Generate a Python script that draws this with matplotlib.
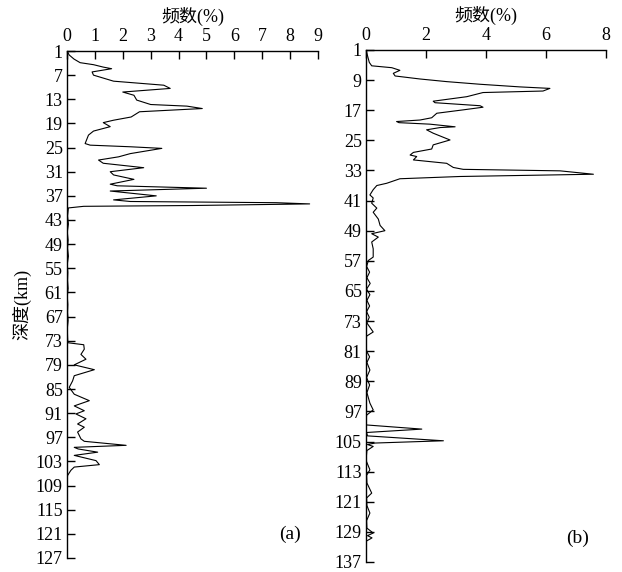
import matplotlib
matplotlib.use("Agg")
import matplotlib.pyplot as plt

plt.rcParams['font.family'] = ['Liberation Serif', 'Noto Sans CJK SC']
plt.rcParams['mathtext.fontset'] = 'stix'

# ---- Panel (a) data: depth (km) vs frequency (%) ----
depth_a = [1, 2, 3, 3.9, 4.4, 5.0, 5.4, 6.2, 7.0, 8.5, 9.5, 10.3, 11.2, 12.0, 13.2,
           14.3, 14.7, 15.3, 16.1, 17.4, 18.2, 18.8, 19.8, 20.9, 21.9, 24.0, 24.4,
           24.8, 25.2, 26.5, 27.3, 28.1, 28.9, 30.0, 31.0, 31.8, 32.9, 34.1, 34.5,
           35.1, 35.8, 37.0, 38.0, 38.4, 38.7, 39.0, 39.4, 39.6, 40.0,
           42, 44, 46, 48, 50, 52, 54, 56, 58, 60, 62, 64, 66, 68, 70, 72, 73.5,
           74.0, 75.1, 76.4, 77.6, 79.0, 80.2, 81.7, 83.0, 84.6, 86.3, 87.9, 89.2,
           90.4, 91.2, 92.4, 93.7, 94.5, 95.7, 97.4, 98.0, 99.0, 99.5, 99.9, 100.7,
           101.5, 102.8, 103.8, 104.4, 105.2, 106.5, 108.1, 127]
freq_a = [0, 0.08, 0.25, 0.47, 0.95, 1.3, 1.6, 0.9, 0.95, 1.67, 3.47, 3.7, 2.0, 2.4, 2.5,
          3.0, 4.3, 4.85, 2.6, 2.3, 1.67, 1.3, 1.55, 0.95, 0.77, 0.65, 0.83,
          2.27, 3.4, 2.27, 1.85, 1.13, 1.3, 2.75, 1.55, 1.67, 2.4, 1.55, 1.8,
          5.0, 1.55, 3.2, 1.67, 2.27, 7.5, 8.7, 4.5, 0.6, 0.05,
          0.02, 0.05, 0.01, 0.04, 0.02, 0.05, 0.01, 0.03, 0.02, 0.04, 0.01, 0.03, 0.02, 0.04, 0.01, 0.02, 0.03,
          0.6, 0.62, 0.5, 0.68, 0.26, 0.98, 0.26, 0.2, 0.08, 0.26, 0.8, 0.26,
          0.62, 0.32, 0.68, 0.38, 0.62, 0.38, 0.5, 0.62, 2.12, 0.26, 0.4, 1.1,
          0.26, 1.04, 1.16, 0.26, 0.14, 0.02, 0.0, 0.0]

# ---- Panel (b) data ----
depth_b = [1, 4.3, 5.2, 5.7, 6.4, 7.2, 7.9, 8.7, 9.4, 10.1, 10.8, 11.2, 11.9, 12.3,
           13.4, 14.6, 15.0, 15.8, 16.2, 16.9, 17.8, 19.0, 19.6, 20.0, 20.3, 20.7,
           21.4, 21.6, 22.2, 23.1, 24.9, 26.2, 27.3, 28.2, 28.9, 29.3, 30.2, 31.1,
           32.2, 32.7, 33.1, 34.0, 34.6, 35.2, 36.4, 37.0, 38.1, 39.5, 40.3, 41.7,
           43.0, 44.1, 45.9, 47.6, 49.0, 49.8, 50.7, 52.0, 53.8, 56.0, 56.9,
           58.5, 60, 61.5, 63, 64.5, 66, 67.5, 69, 70.5, 72, 73.5, 75.9, 77, 78.5,
           81, 82.5, 84, 86, 88, 90, 92, 94.8, 96.6, 98, 99.7, 100.6, 101.7,
           102.6, 103.5, 104.8, 105.4, 105.8, 106.3, 107.4, 110, 112.5, 114,
           116, 118.7, 120, 122, 124, 126, 128, 129.3, 130, 130.6, 131.5, 137]
freq_b = [0, 0.11, 0.19, 0.86, 1.13, 0.91, 0.97, 1.8, 2.69, 3.8, 5.13, 6.13, 5.9, 3.9,
          3.36, 2.24, 2.3, 3.8, 3.9, 3.24, 2.36, 2.19, 1.8, 1.02, 1.1, 2.13,
          2.97, 2.47, 2.02, 2.24, 2.8, 2.24, 2.19, 1.58, 1.47, 1.69, 1.58, 2.69,
          2.91, 3.24, 6.47, 7.58, 3.13, 1.13, 0.69, 0.36, 0.24, 0.13, 0.24, 0.19,
          0.36, 0.24, 0.41, 0.47, 0.63, 0.19, 0.41, 0.19, 0.24, 0.24, 0.08,
          0.02, 0.12, 0.03, 0.14, 0.02, 0.13, 0.03, 0.12, 0.02, 0.11, 0.03, 0.24, 0.02, 0.0,
          0.02, 0.12, 0.03, 0.13, 0.02, 0.12, 0.03, 0.13, 0.24, 0.02, 0.0, 0.02, 1.86,
          0.02, 0.05, 2.58, 0.3, 0.05, 0.24, 0.03, 0.0, 0.13, 0.02,
          0.03, 0.19, 0.02, 0.03, 0.13, 0.02, 0.03, 0.24, 0.05, 0.2, 0.0, 0.0]

ticks_a = list(range(1, 128, 6))
ticks_b = list(range(1, 138, 8))

fig = plt.figure(figsize=(6.22, 5.72), dpi=100)
W, H = 622, 572

def make_ax(l, r, t, b):
    return fig.add_axes([l / W, 1 - b / H, (r - l) / W, (b - t) / H])

ax1 = make_ax(67, 318, 51, 558)
ax2 = make_ax(366, 606, 50, 562)

cjk = ['Liberation Serif', 'Noto Sans CJK SC']

def style(ax, xmax, xticks, ymax, yticks, tag):
    ax.set_xlim(0, xmax)
    ax.set_ylim(ymax, 1)
    ax.xaxis.tick_top()
    ax.xaxis.set_label_position('top')
    ax.set_xticks(xticks)
    ax.set_yticks(yticks)
    for s in ['right', 'bottom']:
        ax.spines[s].set_visible(False)
    for s in ['top', 'left']:
        ax.spines[s].set_linewidth(1.0)
    ax.tick_params(axis='x', direction='in', length=6, width=1.0, pad=4, labelsize=13, top=True, bottom=False)
    ax.tick_params(axis='y', direction='in', length=6, width=1.0, pad=3, labelsize=13)
    ax.set_xlabel('频数(%)', fontsize=13, family=cjk, labelpad=5)
    ax.text(0.93, 0.03, tag, transform=ax.transAxes, ha='right', va='bottom', fontsize=14)

ax1.plot(freq_a, depth_a, color='black', lw=0.8)
style(ax1, 9, list(range(0, 10)), 127, ticks_a, '(a)')
ax1.set_ylabel('深度(km)', fontsize=13, family=cjk, labelpad=3)

ax2.plot(freq_b, depth_b, color='black', lw=0.8)
style(ax2, 8, [0, 2, 4, 6, 8], 137, ticks_b, '(b)')

fig.savefig('out.png', dpi=100)
